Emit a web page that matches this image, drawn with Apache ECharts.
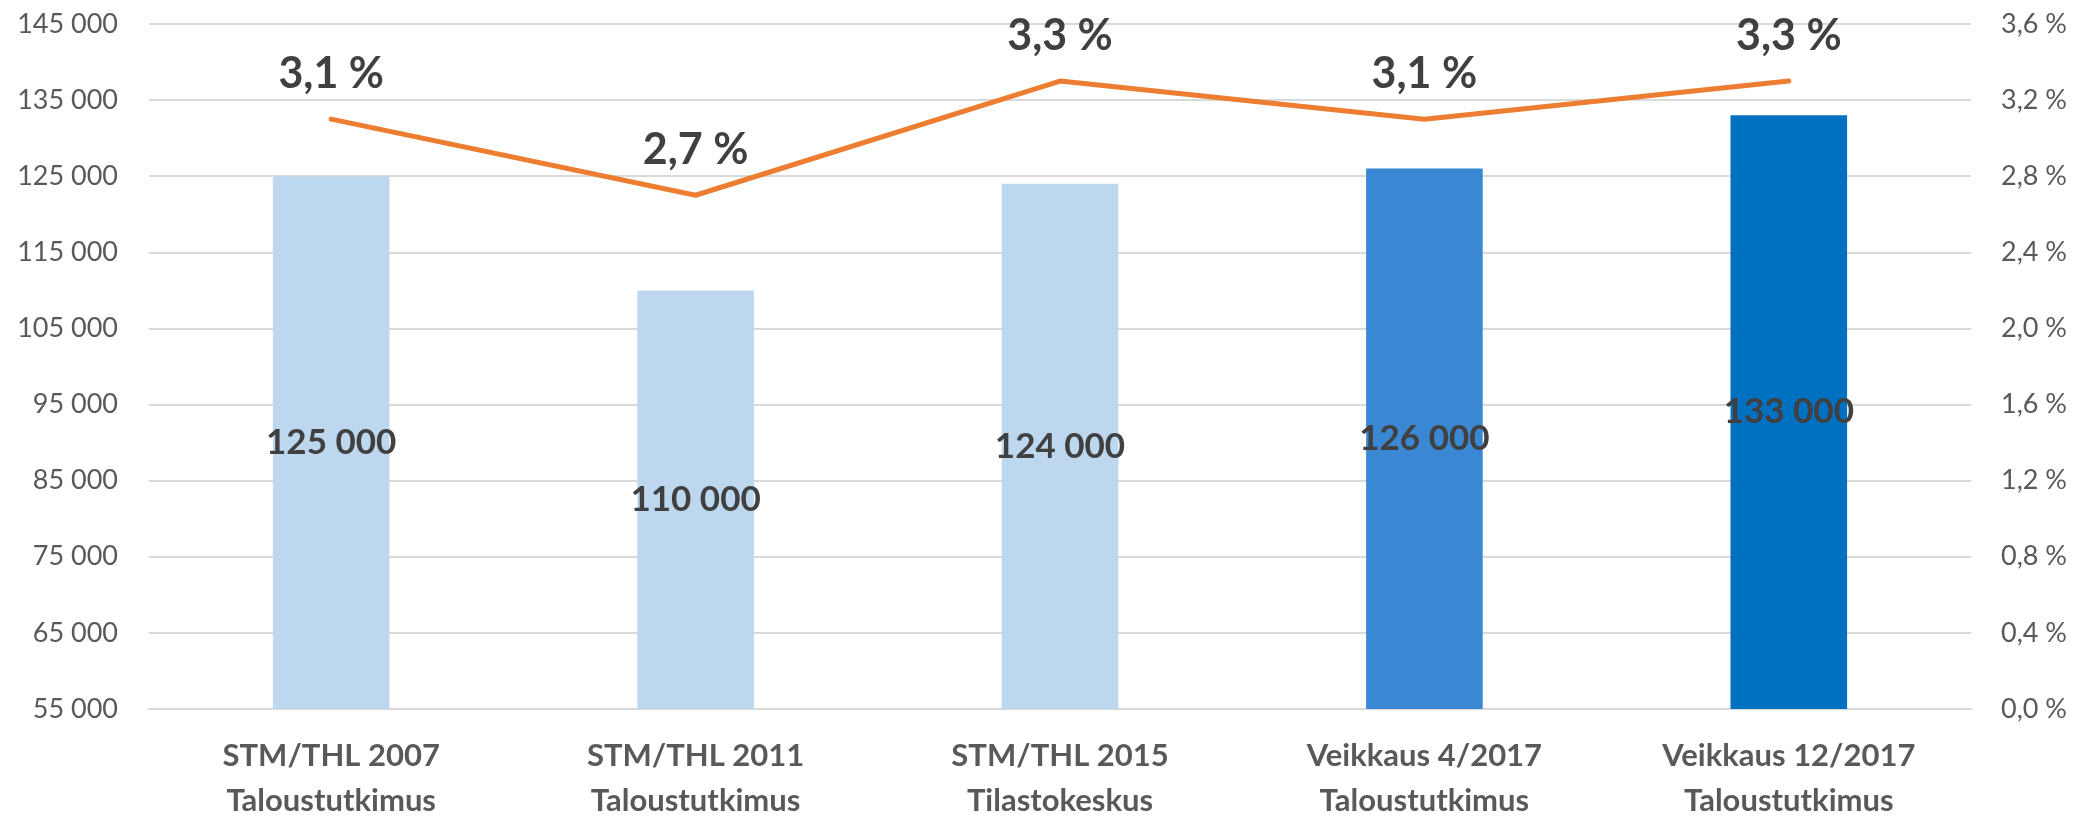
<!DOCTYPE html>
<html>
<head>
<meta charset="utf-8">
<script src="https://cdn.jsdelivr.net/npm/echarts@6/dist/echarts.min.js"></script>
<style>
html,body{margin:0;padding:0;background:#fff;}
#chart{width:2089px;height:823px;}
</style>
</head>
<body>
<div id="chart"></div>
<script>
const categories = [
  'STM/THL 2007\nTaloustutkimus',
  'STM/THL 2011\nTaloustutkimus',
  'STM/THL 2015\nTilastokeskus',
  'Veikkaus 4/2017\nTaloustutkimus',
  'Veikkaus 12/2017\nTaloustutkimus'
];
const playersCount = [125000, 110000, 124000, 126000, 133000];
const sharePercent = [3.1, 2.7, 3.3, 3.1, 3.3];
const barColors = ['#BDD7EE', '#BDD7EE', '#BDD7EE', '#3A87D3', '#0070C0'];

const FONT = 'Lato';
const fmtThousands = v => String(v).replace(/\B(?=(\d{3})+(?!\d))/g, ' ');
const fmtPct = v => v.toFixed(1).replace('.', ',') + ' %';

const chart = echarts.init(document.getElementById('chart'), null, {renderer: 'canvas'});
chart.setOption({
  animation: false,
  backgroundColor: '#ffffff',
  grid: {left: 149, right: 118, top: 24, bottom: 109, containLabel: false},
  xAxis: {
    type: 'category',
    data: categories,
    axisTick: {show: false},
    axisLine: {lineStyle: {color: '#D9D9D9', width: 2}},
    axisLabel: {
      fontFamily: FONT, fontWeight: 'bold', fontSize: 31, color: '#595959',
      lineHeight: 45, margin: 24, interval: 0
    }
  },
  yAxis: [
    {
      type: 'value', min: 55000, max: 145000, interval: 10000,
      axisLine: {show: false}, axisTick: {show: false},
      splitLine: {lineStyle: {color: '#D9D9D9', width: 2}},
      axisLabel: {fontFamily: FONT, fontSize: 27, color: '#595959', margin: 31, formatter: fmtThousands}
    },
    {
      type: 'value', min: 0, max: 3.6, interval: 0.4,
      axisLine: {show: false}, axisTick: {show: false},
      splitLine: {show: false},
      axisLabel: {fontFamily: FONT, fontSize: 27, color: '#595959', margin: 30, formatter: fmtPct}
    }
  ],
  series: [
    {
      type: 'bar',
      yAxisIndex: 0,
      barWidth: '32%',
      data: playersCount.map((v, i) => ({value: v, itemStyle: {color: barColors[i]}})),
      label: {
        show: true, position: 'inside',
        fontFamily: FONT, fontWeight: 'bold', fontSize: 35, color: '#404040',
        formatter: p => fmtThousands(p.value)
      }
    },
    {
      type: 'line',
      yAxisIndex: 1,
      data: sharePercent,
      showSymbol: true,
      symbol: 'circle',
      symbolSize: 1,
      lineStyle: {color: '#ED7D31', width: 5, cap: 'round', join: 'round'},
      itemStyle: {color: '#ED7D31'},
      label: {
        show: true, position: 'top', distance: 23,
        fontFamily: FONT, fontWeight: 'bold', fontSize: 43, color: '#404040',
        formatter: p => fmtPct(p.value)
      },
      labelLayout: {hideOverlap: false}
    }
  ]
});
</script>
</body>
</html>
